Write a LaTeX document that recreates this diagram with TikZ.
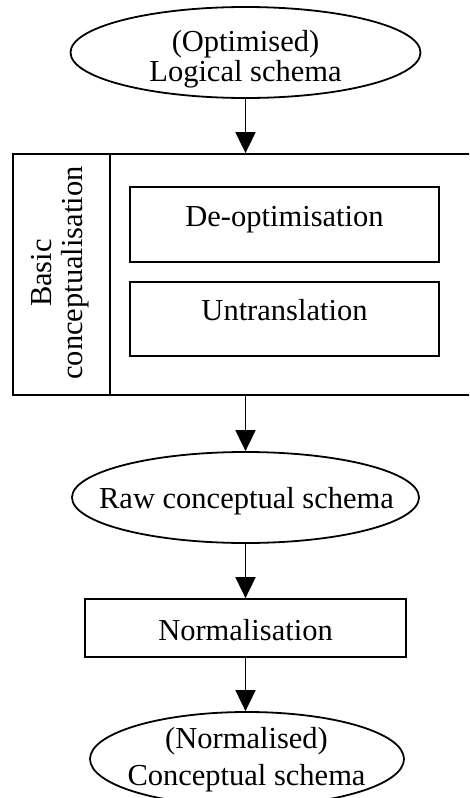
\documentclass[tikz,border=0pt]{standalone}
\usepackage{fontspec}
\setmainfont{Liberation Serif}
\usetikzlibrary{shapes.geometric, arrows.meta}
\begin{document}
\begin{tikzpicture}[x=1pt, y=-1pt,
  every node/.style={font=\fontsize{30.5pt}{30pt}\selectfont, inner sep=0pt},
  frame/.style={draw, line width=1.8pt, rectangle},
  oval/.style={draw, line width=1.8pt, ellipse},
  flow/.style={line width=1.8pt, -{Triangle[length=21pt, width=20pt]}}
]
\useasboundingbox (0,0) rectangle (469,798);
\clip (0,0) rectangle (469,798);

% shapes
\node[oval, minimum width=350pt, minimum height=91pt] (logical) at (245.5,52.5) {};
\node[frame, minimum width=467pt, minimum height=241pt] (basic) at (246.5,274.5) {};
\node[frame, minimum width=97pt, minimum height=241pt] (basiccol) at (61.5,274.5) {};
\node[frame, minimum width=309pt, minimum height=75pt] (deopt) at (284.5,224.5) {};
\node[frame, minimum width=309pt, minimum height=74pt] (untrans) at (284.5,319) {};
\node[oval, minimum width=347pt, minimum height=91pt] (raw) at (245.5,497.5) {};
\node[frame, minimum width=321pt, minimum height=58pt] (norm) at (245.5,628) {};
\node[oval, minimum width=314pt, minimum height=94pt] (final) at (247,759) {};

% texts
\node[align=center] (logicaltxt) at (245.5,59.4) {(Optimised)\\Logical schema};
\node[align=center, rotate=90, font=\fontsize{30.5pt}{31pt}\selectfont] (basictxt) at (60.3,273) {Basic\\conceptualisation};
\node[anchor=base] (deopttxt) at (284.5,226.7) {De-optimisation};
\node[anchor=base] (untranstxt) at (284.5,320) {Untranslation};
\node[anchor=base] (rawtxt) at (246.5,508) {Raw conceptual schema};
\node[anchor=base] (normtxt) at (245.5,640) {Normalisation};
\node[align=center, font=\fontsize{30.5pt}{37pt}\selectfont] (finaltxt) at (246.5,759.7) {(Normalised)\\Conceptual schema};

% connectors
\draw[flow] (logical.south) -- (logical.south |- basic.north);
\draw[flow] (raw.north |- basic.south) -- (raw.north);
\draw[flow] (raw.south) -- (raw.south |- norm.north);
\draw[flow] (norm.south) -- (norm.south |- final.north);
\end{tikzpicture}
\end{document}
